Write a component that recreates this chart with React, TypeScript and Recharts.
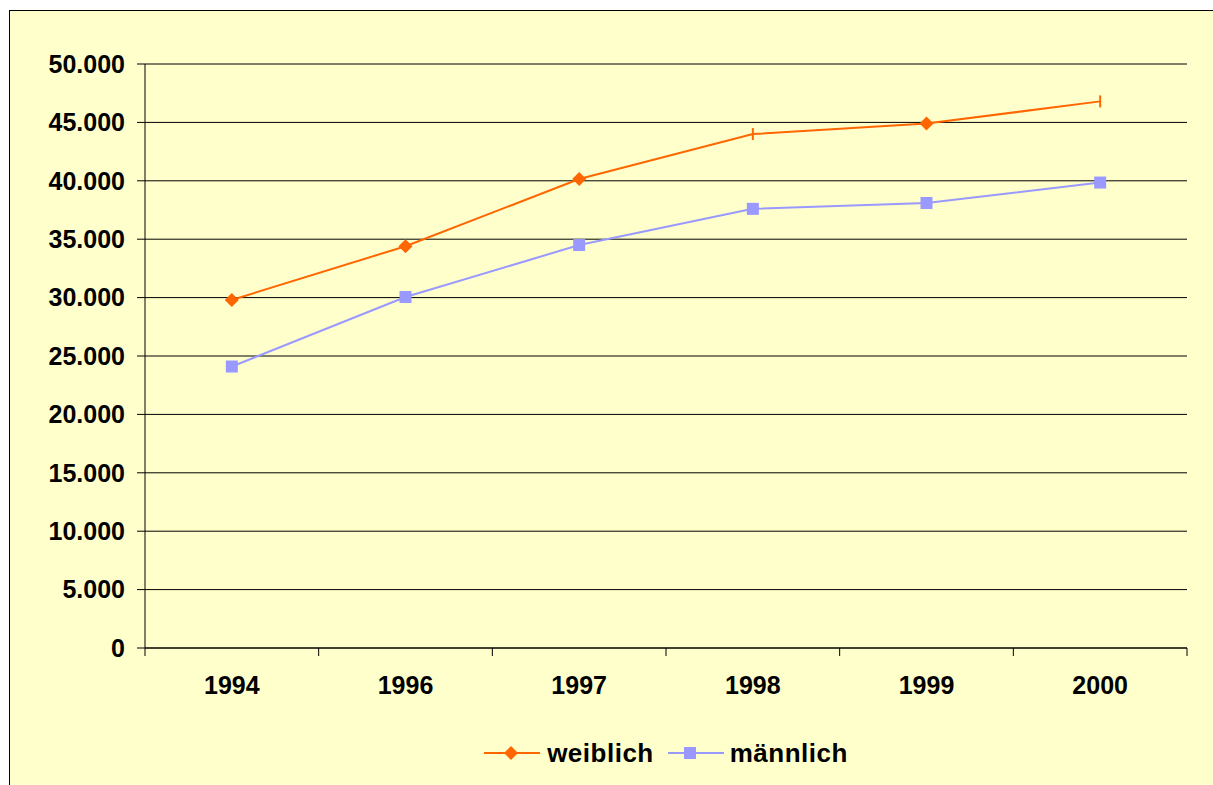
import { LineChart, Line, XAxis, YAxis, CartesianGrid, Legend } from "recharts";

const years = ["1994", "1996", "1997", "1998", "1999", "2000"];
const weiblich = [29800, 34400, 40150, 44000, 44900, 46800];
const maennlich = [24100, 30050, 34500, 37600, 38100, 39850];
const yTicks = [0, 5000, 10000, 15000, 20000, 25000, 30000, 35000, 40000, 45000, 50000];

// in the original export these two orange markers came out as short vertical bars
const barMarkerYears = ["1998", "2000"];

const W = 1213;
const H = 785;
const PLOT_LEFT = 145;
const PLOT_RIGHT = 1187;
const PLOT_TOP = 64;
const PLOT_BOTTOM = 648;
const BAND = (PLOT_RIGHT - PLOT_LEFT) / years.length;

const ORANGE = "#FF6600";
const BLUE = "#9999FF";
const FONT = "'Liberation Sans', Arial, sans-serif";

const data = years.map((year, i) => ({
  year,
  weiblich: weiblich[i],
  maennlich: maennlich[i],
}));

const fmt = (v: number) => String(v).replace(/\B(?=(\d{3})+(?!\d))/g, ".");

const Diamond = ({ cx, cy, fill }: any) => (
  <path d={`M${cx},${cy - 7} L${cx + 7},${cy} L${cx},${cy + 7} L${cx - 7},${cy} Z`} fill={fill} />
);

const Square = ({ cx, cy, fill }: any) => (
  <rect x={cx - 6} y={cy - 6} width={12} height={12} fill={fill} />
);

const OrangeDot = (props: any) => {
  const { cx, cy, payload } = props;
  if (cx == null || cy == null) return null;
  if (barMarkerYears.includes(payload.year)) {
    return <line key={payload.year} x1={cx} x2={cx} y1={cy - 6} y2={cy + 6} stroke={ORANGE} strokeWidth={2} />;
  }
  return <Diamond key={payload.year} cx={cx} cy={cy} fill={ORANGE} />;
};

const BlueDot = (props: any) => {
  const { cx, cy, payload } = props;
  if (cx == null || cy == null) return null;
  return <Square key={payload.year} cx={cx} cy={cy} fill={BLUE} />;
};

const YearTick = ({ x, y, payload, index }: any) => {
  const axisY = y - 8;
  return (
    <g>
      <line x1={x - BAND / 2} x2={x - BAND / 2} y1={axisY} y2={axisY + 8} stroke="#000" strokeWidth={1} />
      {index === years.length - 1 && (
        <line x1={x + BAND / 2} x2={x + BAND / 2} y1={axisY} y2={axisY + 8} stroke="#000" strokeWidth={1} />
      )}
      <text
        x={x}
        y={axisY + 46}
        textAnchor="middle"
        fill="#000"
        fontSize={25}
        fontWeight="bold"
        fontFamily={FONT}
      >
        {payload.value}
      </text>
    </g>
  );
};

const LegendIcon = ({ color, shape }: { color: string; shape: "diamond" | "square" }) => (
  <svg width={56} height={16} style={{ display: "block" }}>
    <line x1={0} x2={56} y1={8} y2={8} stroke={color} strokeWidth={2} />
    {shape === "diamond" ? <Diamond cx={27} cy={8} fill={color} /> : <Square cx={22} cy={8} fill={color} />}
  </svg>
);

const ChartLegend = () => (
  <div
    style={{
      display: "flex",
      justifyContent: "center",
      alignItems: "center",
      height: 46,
      fontFamily: FONT,
      fontWeight: "bold",
      fontSize: 26,
      letterSpacing: 0.5,
      color: "#000",
    }}
  >
    <LegendIcon color={ORANGE} shape="diamond" />
    <span style={{ marginLeft: 7, marginRight: 14 }}>weiblich</span>
    <LegendIcon color={BLUE} shape="square" />
    <span style={{ marginLeft: 6 }}>männlich</span>
  </div>
);

export default function App() {
  return (
    <div
      style={{
        position: "absolute",
        left: 0,
        top: 0,
        width: W,
        height: H,
        background: "#fff",
        overflow: "hidden",
      }}
    >
      <div
        style={{
          position: "absolute",
          left: 9,
          top: 10,
          width: W,
          height: H,
          background: "#FFFFCC",
          borderLeft: "1.5px solid #000",
          borderTop: "1.5px solid #000",
        }}
      />
      <div style={{ position: "absolute", left: 0, top: 0 }}>
        <LineChart
          width={W}
          height={H}
          data={data}
          margin={{ top: PLOT_TOP, right: W - PLOT_RIGHT, left: 0, bottom: 0 }}
        >
          <CartesianGrid horizontal vertical={false} stroke="#000" strokeWidth={1} />
          <XAxis
            dataKey="year"
            scale="band"
            height={H - PLOT_BOTTOM}
            tickLine={false}
            tickSize={8}
            tickMargin={0}
            axisLine={{ stroke: "#000", strokeWidth: 1 }}
            tick={<YearTick />}
            interval={0}
          />
          <YAxis
            domain={[0, 50000]}
            ticks={yTicks}
            width={PLOT_LEFT}
            tickFormatter={fmt}
            tickSize={8}
            tickMargin={12}
            axisLine={{ stroke: "#000", strokeWidth: 1 }}
            tickLine={{ stroke: "#000", strokeWidth: 1 }}
            tick={{ fill: "#000", fontSize: 25, fontWeight: "bold", fontFamily: FONT }}
            interval={0}
          />
          <Legend
            layout="horizontal"
            verticalAlign="middle"
            align="center"
            wrapperStyle={{ left: PLOT_LEFT, width: PLOT_RIGHT - PLOT_LEFT, top: 730 }}
            content={() => <ChartLegend />}
          />
          <Line
            dataKey="weiblich"
            name="weiblich"
            stroke={ORANGE}
            strokeWidth={2}
            dot={<OrangeDot />}
            activeDot={false}
            isAnimationActive={false}
          />
          <Line
            dataKey="maennlich"
            name="männlich"
            stroke={BLUE}
            strokeWidth={2}
            dot={<BlueDot />}
            activeDot={false}
            isAnimationActive={false}
          />
        </LineChart>
      </div>
    </div>
  );
}
